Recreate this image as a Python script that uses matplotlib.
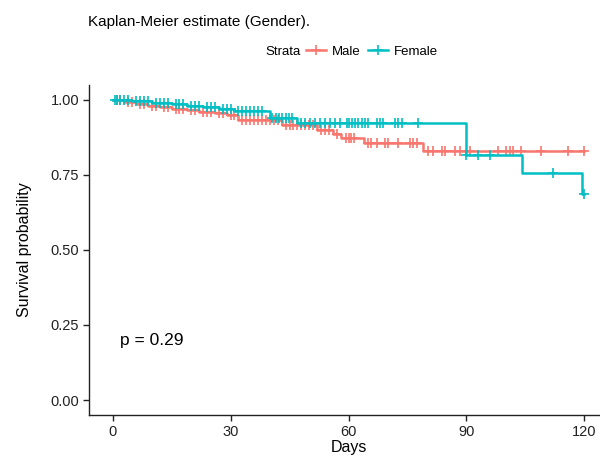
import numpy as np
import matplotlib.pyplot as plt
from matplotlib.lines import Line2D

plt.rcParams['font.family'] = ['Liberation Sans', 'DejaVu Sans']

# KM steps: time of event and survival right after it
male_times = [0, 3, 6, 9, 12, 15, 19, 22, 26, 29, 32, 43, 52, 56, 58, 64, 79, 120]
male_surv = [1.0, 0.993, 0.987, 0.98, 0.975, 0.97, 0.965, 0.96, 0.955, 0.95,
             0.933, 0.917, 0.90, 0.887, 0.873, 0.858, 0.83, 0.83]
female_times = [0, 5, 10, 15, 19, 23, 27, 31, 40, 47, 90, 104, 119.5, 120]
female_surv = [1.0, 0.995, 0.99, 0.985, 0.98, 0.975, 0.97, 0.963, 0.94, 0.922,
               0.817, 0.757, 0.688, 0.688]

# censored observations (days)
male_cens = [1, 2, 4, 5, 7, 8, 10, 11, 13, 14, 16, 17, 18, 20, 21, 23, 24, 25,
             27, 28, 30, 31, 33, 34, 35, 36, 37, 38, 39, 40, 41, 42, 44, 45, 46,
             47, 48, 49, 50, 51, 53, 54, 55, 57, 59.4, 60, 60.7, 61.3, 65, 65.7,
             67.3, 69.3, 70, 72.6, 75.6, 76.4, 77.4, 80.2, 81.5, 83.8, 84.5, 87,
             88.3, 90.9, 98, 100, 101, 101.8, 103.8, 108.9, 115.7, 119.8]
female_cens = [0.5, 1, 2, 3, 4, 6, 7, 8, 9, 11, 12, 13, 14, 16, 17, 18, 20, 21,
               22, 24, 25, 26, 28, 29, 30, 32, 33, 34, 35, 36, 37, 38, 40.6, 41.5,
               42.4, 43.2, 44, 44.9, 45.7, 48, 49, 50.3, 51.5, 52.8, 54, 55.3,
               56.6, 57.9, 59.6, 60, 61, 61.7, 62.4, 63.5, 64.2, 65, 67.3, 68,
               68.8, 71.8, 72.6, 73.6, 77.7, 90, 93, 96, 112, 120]

red = '#F8766D'
teal = '#00BFC4'


def surv_at(times, surv, t):
    idx = np.searchsorted(times, t, side='right') - 1
    return np.asarray(surv)[idx]


fig = plt.figure(figsize=(6, 4.58), dpi=100)
ax = fig.add_axes([89 / 600, 43 / 458, 519 / 600, 330 / 458])

for times, surv, cens, col in [(male_times, male_surv, male_cens, red),
                               (female_times, female_surv, female_cens, teal)]:
    ax.step(times, surv, where='post', color=col, lw=1.8, zorder=3)
    ax.plot(cens, surv_at(times, surv, cens), ls='none', marker='+',
            ms=7, mew=1.2, color=col, zorder=3)

ax.set_xlim(-6, 126)
ax.set_ylim(-0.05, 1.05)
ax.set_xticks([0, 30, 60, 90, 120])
ax.set_yticks([0, 0.25, 0.5, 0.75, 1.0])
ax.set_yticklabels(['0.00', '0.25', '0.50', '0.75', '1.00'])
for s in ['top', 'right']:
    ax.spines[s].set_visible(False)
for s in ['left', 'bottom']:
    ax.spines[s].set_linewidth(1.0)
    ax.spines[s].set_color('#222222')
ax.tick_params(length=4, width=1.0, color='#222222', labelsize=10.5,
               labelcolor='#222222', pad=3)
ax.set_xlabel('Days', fontsize=11.5, labelpad=1)
ax.set_ylabel('Survival probability', fontsize=11.5, labelpad=13)

ax.text(2, 0.2, 'p = 0.29', fontsize=12.5, ha='left', va='center')

fig.text(88 / 600, 1 - 22 / 458, 'Kaplan-Meier estimate (Gender).',
         fontsize=11, ha='left', va='center')

# legend row
fig.text(265 / 600, 1 - 52 / 458, 'Strata', fontsize=9.5, ha='left', va='center')
handles = [Line2D([], [], color=red, lw=1.8, marker='+', ms=7, mew=1.2),
           Line2D([], [], color=teal, lw=1.8, marker='+', ms=7, mew=1.2)]
fig.legend(handles, ['Male', 'Female'], ncol=2, frameon=False, fontsize=9.5,
           loc='center left', bbox_to_anchor=(306 / 600, 1 - 52 / 458),
           handlelength=1.5, handletextpad=0.45, columnspacing=0.6,
           borderpad=0, borderaxespad=0)

fig.savefig('out.png', dpi=100)
